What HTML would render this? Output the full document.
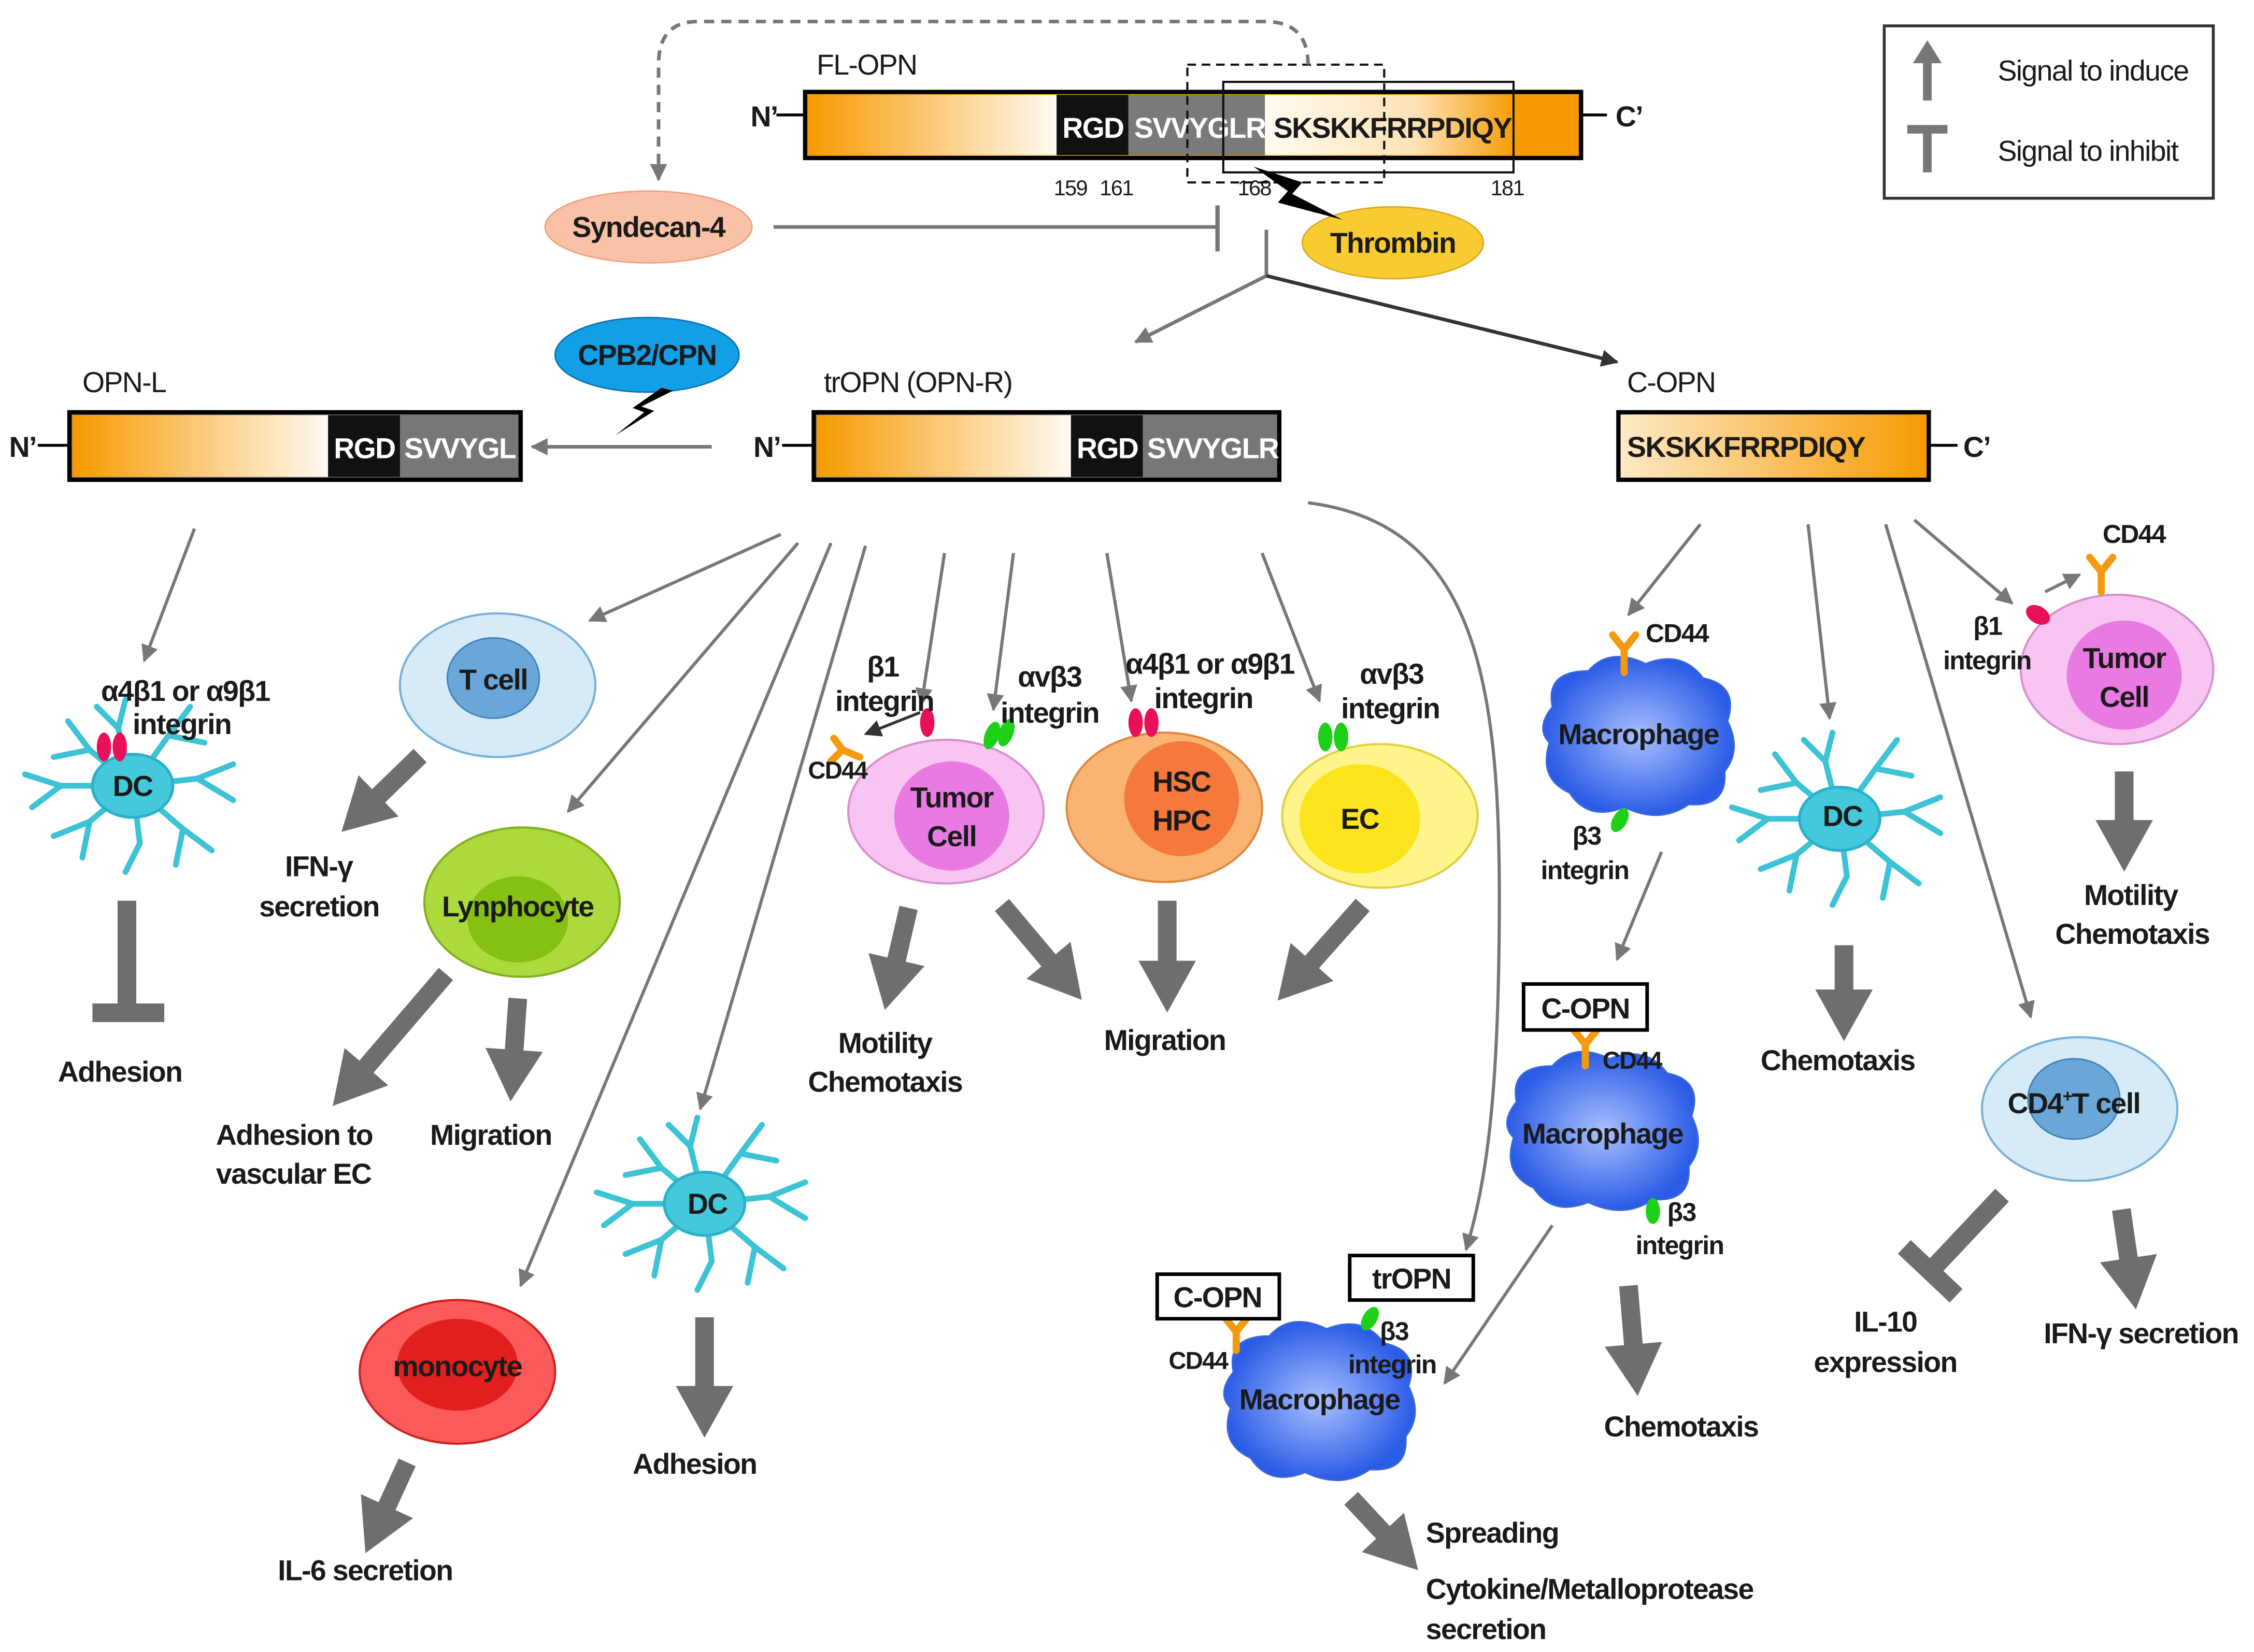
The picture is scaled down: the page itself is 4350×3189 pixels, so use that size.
<!DOCTYPE html>
<html><head><meta charset="utf-8"><style>
html,body{margin:0;padding:0;background:#fff}
svg{display:block}
text{font-family:"Liberation Sans",sans-serif;font-weight:bold;fill:#1a1a1a;font-size:20px;letter-spacing:-0.6px}
.n{font-weight:normal}
</style></head><body>
<svg width="4350" height="3189" viewBox="0 0 1568 1150" xmlns="http://www.w3.org/2000/svg">
<defs>
<linearGradient id="og" x1="0" x2="1"><stop offset="0" stop-color="#f79a00"/><stop offset="1" stop-color="#fffaf2"/></linearGradient>
<linearGradient id="og2" x1="0" x2="1"><stop offset="0" stop-color="#fffaf0"/><stop offset="0.6" stop-color="#fde2b6"/><stop offset="1" stop-color="#f79a00"/></linearGradient>
<linearGradient id="og3" x1="0" x2="1"><stop offset="0" stop-color="#fde9c8"/><stop offset="1" stop-color="#f79a00"/></linearGradient>
<radialGradient id="mg"><stop offset="0" stop-color="#a9c0ff"/><stop offset="1" stop-color="#2b5ce6"/></radialGradient>
<marker id="a" viewBox="0 0 10 10" refX="9" refY="5" markerWidth="12" markerHeight="12" markerUnits="userSpaceOnUse" orient="auto"><path d="M0,0L10,5L0,10z" fill="#777"/></marker>
<marker id="ak" viewBox="0 0 10 10" refX="9" refY="5" markerWidth="12" markerHeight="12" markerUnits="userSpaceOnUse" orient="auto"><path d="M0,0L10,5L0,10z" fill="#333"/></marker>
<marker id="b" viewBox="0 0 10 10" refX="2" refY="5" markerWidth="36" markerHeight="40" markerUnits="userSpaceOnUse" orient="auto" preserveAspectRatio="none"><path d="M0,0L10,5L0,10z" fill="#6e6e6e"/></marker>
<g id="mac"><path d="M-60,-20 Q-65,-45 -35,-45 Q-20,-62 5,-50 Q30,-60 45,-40 Q70,-35 62,-10 Q72,10 60,25 Q62,50 35,48 Q15,62 -10,50 Q-35,60 -48,40 Q-70,30 -62,5 Q-72,-5 -60,-20Z" fill="url(#mg)" stroke="#3a6ad8" stroke-width="1"/></g>
<g id="dc" stroke="#3cc3d6" stroke-width="4" fill="none" stroke-linecap="round">
<path d="M0,0 L-30,-25 L-45,-45 M-30,-25 L-55,-20 M0,0 L-10,-40 L-5,-60 M-10,-40 L-25,-55 M0,0 L25,-35 L40,-55 M25,-35 L50,-30 M0,0 L45,-5 L70,-15 M45,-5 L70,10 M0,0 L35,30 L55,45 M35,30 L30,55 M0,0 L5,40 L-5,60 M0,0 L-30,25 L-55,35 M-30,25 L-35,50 M0,0 L-50,0 L-75,-8 M-50,0 L-70,15"/>
<ellipse cx="0" cy="0" rx="28" ry="22" fill="#44c9dc" stroke="#2ab0c8" stroke-width="2"/>
</g>
</defs>

<rect x="1311" y="18" width="229" height="120" fill="#fff" stroke="#333" stroke-width="2"/>
<line x1="1341" y1="70" x2="1341" y2="40" stroke="#777" stroke-width="6"/><path d="M1331,44L1341,28L1351,44z" fill="#777"/>
<line x1="1341" y1="120" x2="1341" y2="90" stroke="#777" stroke-width="6"/><line x1="1327" y1="90" x2="1355" y2="90" stroke="#777" stroke-width="6"/>
<text class="n" x="1390" y="56">Signal to induce</text>
<text class="n" x="1390" y="112">Signal to inhibit</text>

<text class="n" x="568" y="52">FL-OPN</text>
<text x="522" y="88">N’</text><line x1="540" y1="80" x2="560" y2="80" stroke="#000" stroke-width="2"/>
<rect x="560" y="64" width="540" height="46" fill="#f79a00" stroke="#000" stroke-width="3"/>
<rect x="562" y="66" width="173" height="42" fill="url(#og)"/>
<rect x="735" y="66" width="50" height="42" fill="#111"/>
<rect x="785" y="66" width="95" height="42" fill="#7a7a7a"/>
<rect x="880" y="66" width="175" height="42" fill="url(#og2)"/>
<text x="739" y="96" style="fill:#fff">RGD</text><text x="789" y="96" style="fill:#fff">SVVYGLR</text>
<text x="886" y="96">SKSKKFRRPDIQY</text>
<line x1="1100" y1="80" x2="1118" y2="80" stroke="#000" stroke-width="2"/><text x="1124" y="88">C’</text>
<text class="n" x="733" y="136" style="font-size:15px">159</text><text class="n" x="765" y="136" style="font-size:15px">161</text>
<text class="n" x="861" y="136" style="font-size:15px">168</text><text class="n" x="1037" y="136" style="font-size:15px">181</text>
<rect x="826" y="45" width="137" height="82" fill="none" stroke="#111" stroke-width="1.5" stroke-dasharray="6,4"/>
<rect x="851" y="57" width="202" height="63" fill="none" stroke="#111" stroke-width="1.5"/>
<path d="M910,45 Q910,15 880,15 L485,15 Q458,15 458,45 L458,125" fill="none" stroke="#777" stroke-width="2.5" stroke-dasharray="7,5" marker-end="url(#a)"/>

<ellipse cx="451" cy="158" rx="72" ry="25" fill="#f9c1a6" stroke="#f0a080"/>
<text x="451" y="165" text-anchor="middle">Syndecan-4</text>
<line x1="538" y1="158" x2="846" y2="158" stroke="#777" stroke-width="2.5"/><line x1="847" y1="143" x2="847" y2="175" stroke="#777" stroke-width="3"/>
<ellipse cx="969" cy="169" rx="63" ry="25" fill="#f8cc30" stroke="#d8a820"/>
<text x="969" y="176" text-anchor="middle">Thrombin</text>
<path d="M872,116 L906,127 L899,135 L934,153 L889,141 L896,133 Z" fill="#000"/>
<line x1="881" y1="160" x2="881" y2="192" stroke="#777" stroke-width="2.5"/>
<line x1="881" y1="192" x2="790" y2="238" stroke="#777" stroke-width="2.5" marker-end="url(#a)"/>
<line x1="881" y1="192" x2="1125" y2="252" stroke="#333" stroke-width="2.5" marker-end="url(#ak)"/>

<text class="n" x="57" y="273">OPN-L</text>
<text x="6" y="318">N’</text><line x1="26" y1="310" x2="48" y2="310" stroke="#000" stroke-width="2"/>
<rect x="48" y="287" width="314" height="47" fill="#777" stroke="#000" stroke-width="3"/>
<rect x="50" y="289" width="178" height="43" fill="url(#og)"/>
<rect x="228" y="289" width="50" height="43" fill="#111"/>
<text x="232" y="319" style="fill:#fff">RGD</text><text x="281" y="319" style="fill:#fff">SVVYGL</text>
<ellipse cx="450" cy="247" rx="64" ry="26" fill="#11a0e6" stroke="#0a70b0"/>
<text x="450" y="254" text-anchor="middle">CPB2/CPN</text>
<path d="M460,270 L440,284 L448,287 L428,303 L455,286 L446,283 L468,272 Z" fill="#000"/>
<line x1="495" y1="311" x2="370" y2="311" stroke="#777" stroke-width="2.5" marker-end="url(#a)"/>

<text class="n" x="573" y="273">trOPN (OPN-R)</text>
<text x="524" y="318">N’</text><line x1="544" y1="310" x2="566" y2="310" stroke="#000" stroke-width="2"/>
<rect x="566" y="287" width="324" height="47" fill="#777" stroke="#000" stroke-width="3"/>
<rect x="568" y="289" width="177" height="43" fill="url(#og)"/>
<rect x="745" y="289" width="50" height="43" fill="#111"/>
<text x="749" y="319" style="fill:#fff">RGD</text><text x="798" y="319" style="fill:#fff">SVVYGLR</text>

<text class="n" x="1132" y="273">C-OPN</text>
<rect x="1126" y="287" width="216" height="47" fill="url(#og3)" stroke="#000" stroke-width="3"/>
<text x="1132" y="318">SKSKKFRRPDIQY</text>
<line x1="1342" y1="310" x2="1362" y2="310" stroke="#000" stroke-width="2"/><text x="1366" y="318">C’</text>

<g stroke="#777" stroke-width="2.2" fill="none" marker-end="url(#a)">
<line x1="135" y1="368" x2="100" y2="460"/>
<line x1="543" y1="372" x2="410" y2="432"/>
<line x1="555" y1="378" x2="395" y2="565"/>
<line x1="578" y1="378" x2="362" y2="895"/>
<line x1="602" y1="380" x2="487" y2="772"/>
<line x1="657" y1="385" x2="641" y2="490"/>
<line x1="705" y1="385" x2="691" y2="494"/>
<line x1="770" y1="385" x2="787" y2="488"/>
<line x1="878" y1="385" x2="918" y2="488"/>
<path d="M910,350 C1030,365 1045,480 1043,650 C1042,760 1035,820 1020,870"/>
<line x1="1183" y1="365" x2="1133" y2="428"/>
<line x1="1258" y1="365" x2="1273" y2="500"/>
<line x1="1312" y1="365" x2="1413" y2="708"/>
<line x1="1332" y1="362" x2="1400" y2="420"/>
<line x1="1156" y1="593" x2="1125" y2="668"/>
<line x1="1080" y1="853" x2="1005" y2="963"/>
<line x1="1423" y1="412" x2="1447" y2="400"/>
</g>
<line x1="640" y1="496" x2="602" y2="511" stroke="#333" stroke-width="2" marker-end="url(#ak)"/>

<g stroke="#6e6e6e" stroke-width="13" fill="none" marker-end="url(#b)">
<line x1="292" y1="526" x2="258" y2="559"/>
<line x1="310" y1="678" x2="250" y2="748"/>
<line x1="360" y1="695" x2="357" y2="738"/>
<line x1="283" y1="1018" x2="266" y2="1055"/>
<line x1="490" y1="917" x2="490" y2="972"/>
<line x1="632" y1="632" x2="622" y2="675"/>
<line x1="697" y1="630" x2="734" y2="674"/>
<line x1="812" y1="627" x2="812" y2="676"/>
<line x1="948" y1="630" x2="908" y2="675"/>
<line x1="1283" y1="658" x2="1283" y2="696"/>
<line x1="1478" y1="537" x2="1478" y2="578"/>
<line x1="1133" y1="895" x2="1137" y2="943"/>
<line x1="940" y1="1043" x2="967" y2="1072"/>
<line x1="1476" y1="842" x2="1482" y2="883"/>
</g>
<g stroke="#6e6e6e" stroke-width="13">
<line x1="88" y1="627" x2="88" y2="703"/><line x1="64" y1="705" x2="114" y2="705"/>
<line x1="1393" y1="832" x2="1343" y2="885"/><line x1="1325" y1="868" x2="1361" y2="902"/>
</g>

<ellipse cx="346" cy="477" rx="68" ry="50" fill="#d6eaf8" stroke="#7ab0d8" stroke-width="1.5"/>
<ellipse cx="343" cy="472" rx="32" ry="28" fill="#6aa6d8" stroke="#3a80b8"/>
<text x="343" y="480" text-anchor="middle">T cell</text>
<ellipse cx="363" cy="628" rx="68" ry="52" fill="#acd93c" stroke="#80b020" stroke-width="1.5"/>
<ellipse cx="360" cy="640" rx="35" ry="30" fill="#86c012"/>
<text x="360" y="638" text-anchor="middle">Lynphocyte</text>
<ellipse cx="318" cy="955" rx="68" ry="50" fill="#fb5a5a" stroke="#d02020" stroke-width="1.5"/>
<ellipse cx="318" cy="950" rx="42" ry="32" fill="#e21f1f"/>
<text x="318" y="958" text-anchor="middle">monocyte</text>
<ellipse cx="658" cy="565" rx="68" ry="50" fill="#f8c4f2" stroke="#d890d0" stroke-width="1.5"/>
<ellipse cx="662" cy="568" rx="40" ry="38" fill="#e87ae2"/>
<text x="662" y="562" text-anchor="middle">Tumor</text><text x="662" y="589" text-anchor="middle">Cell</text>
<ellipse cx="810" cy="562" rx="68" ry="52" fill="#f9b473" stroke="#e08840" stroke-width="1.5"/>
<ellipse cx="822" cy="556" rx="40" ry="40" fill="#f4793a"/>
<text x="822" y="551" text-anchor="middle">HSC</text><text x="822" y="578" text-anchor="middle">HPC</text>
<ellipse cx="960" cy="568" rx="68" ry="50" fill="#fff48a" stroke="#e0d040" stroke-width="1.5"/>
<ellipse cx="946" cy="570" rx="42" ry="38" fill="#fbe41c"/>
<text x="946" y="577" text-anchor="middle">EC</text>
<ellipse cx="1473" cy="466" rx="67" ry="52" fill="#f8c4f2" stroke="#d890d0" stroke-width="1.5"/>
<ellipse cx="1478" cy="470" rx="40" ry="38" fill="#e87ae2"/>
<text x="1478" y="465" text-anchor="middle">Tumor</text><text x="1478" y="492" text-anchor="middle">Cell</text>
<ellipse cx="1447" cy="772" rx="68" ry="50" fill="#d6eaf8" stroke="#7ab0d8" stroke-width="1.5"/>
<ellipse cx="1443" cy="765" rx="32" ry="28" fill="#6aa6d8" stroke="#3a80b8"/>
<text x="1443" y="775" text-anchor="middle">CD4<tspan style="font-size:12px" dy="-8">+</tspan><tspan dy="8">T cell</tspan></text>

<use href="#dc" x="92" y="547"/><text x="92" y="554" text-anchor="middle">DC</text>
<use href="#dc" x="490" y="838"/><text x="492" y="845" text-anchor="middle">DC</text>
<use href="#dc" x="1280" y="570"/><text x="1282" y="575" text-anchor="middle">DC</text>

<use href="#mac" x="1140" y="512"/><text x="1140" y="518" text-anchor="middle">Macrophage</text>
<use href="#mac" x="1115" y="787"/><text x="1115" y="796" text-anchor="middle">Macrophage</text>
<use href="#mac" x="918" y="975"/><text x="918" y="981" text-anchor="middle">Macrophage</text>

<g fill="#e8105a"><ellipse cx="72" cy="520" rx="5" ry="10"/><ellipse cx="83" cy="520" rx="5" ry="10"/>
<ellipse cx="645" cy="503" rx="5" ry="10"/>
<ellipse cx="790" cy="503" rx="5" ry="10"/><ellipse cx="801" cy="503" rx="5" ry="10"/>
<ellipse cx="1418" cy="428" rx="9" ry="6" transform="rotate(30 1418 428)"/></g>
<g fill="#1fd018"><ellipse cx="690" cy="512" rx="5" ry="10" transform="rotate(20 690 512)"/><ellipse cx="700" cy="510" rx="5" ry="10" transform="rotate(20 700 510)"/>
<ellipse cx="922" cy="513" rx="5" ry="10"/><ellipse cx="933" cy="513" rx="5" ry="10"/>
<ellipse cx="1127" cy="571" rx="5" ry="9" transform="rotate(30 1127 571)"/>
<ellipse cx="1150" cy="843" rx="5" ry="9"/>
<ellipse cx="953" cy="918" rx="5" ry="9" transform="rotate(30 953 918)"/></g>
<g stroke="#f39a10" stroke-width="5" fill="none" stroke-linecap="round">
<path d="M1130,468 L1130,452 M1122,442 L1130,452 L1138,442"/>
<path d="M1103,742 L1103,727 M1095,717 L1103,727 L1111,717"/>
<path d="M1462,412 L1462,398 M1454,388 L1462,398 L1470,388"/>
<path d="M860,940 L860,927 M852,917 L860,927 L868,917"/>
<path d="M598,527 L586,522 M580,514 L586,522 L578,530"/>
</g>

<text x="70" y="488">α4β1 or α9β1</text><text x="92" y="511">integrin</text>
<text x="198" y="610">IFN-γ</text><text x="180" y="638">secretion</text>
<text x="40" y="753">Adhesion</text>
<text x="150" y="797">Adhesion to</text><text x="150" y="824">vascular EC</text>
<text x="299" y="797">Migration</text>
<text x="193" y="1100">IL-6 secretion</text>
<text x="440" y="1026">Adhesion</text>
<text x="603" y="471">β1</text><text x="581" y="495">integrin</text>
<text x="562" y="542" style="font-size:17px">CD44</text>
<text x="708" y="478">αvβ3</text><text x="696" y="503">integrin</text>
<text x="783" y="469">α4β1 or α9β1</text><text x="803" y="493">integrin</text>
<text x="946" y="476">αvβ3</text><text x="933" y="500">integrin</text>
<text x="583" y="733">Motility</text><text x="562" y="760">Chemotaxis</text>
<text x="768" y="731">Migration</text>
<text x="1145" y="447" style="font-size:18px">CD44</text>
<text x="1094" y="588" style="font-size:18px">β3</text><text x="1072" y="612" style="font-size:18px">integrin</text>
<rect x="1060" y="685" width="86" height="32" fill="#fff" stroke="#000" stroke-width="2.5"/><text x="1103" y="709" text-anchor="middle">C-OPN</text>
<text x="1115" y="744" style="font-size:17px">CD44</text>
<text x="1160" y="850" style="font-size:18px">β3</text><text x="1138" y="873" style="font-size:18px">integrin</text>
<text x="1116" y="1000">Chemotaxis</text>
<rect x="805" y="887" width="85" height="31" fill="#fff" stroke="#000" stroke-width="2.5"/><text x="847" y="910" text-anchor="middle">C-OPN</text>
<rect x="939" y="874" width="86" height="31" fill="#fff" stroke="#000" stroke-width="2.5"/><text x="982" y="897" text-anchor="middle">trOPN</text>
<text x="813" y="953" style="font-size:17px">CD44</text>
<text x="960" y="933" style="font-size:18px">β3</text><text x="938" y="956" style="font-size:18px">integrin</text>
<text x="992" y="1074">Spreading</text>
<text x="992" y="1113">Cytokine/Metalloprotease</text><text x="992" y="1141">secretion</text>
<text x="1225" y="745">Chemotaxis</text>
<text x="1463" y="378" style="font-size:18px">CD44</text>
<text x="1373" y="442" style="font-size:18px">β1</text><text x="1352" y="466" style="font-size:18px">integrin</text>
<text x="1450" y="630">Motility</text><text x="1430" y="657">Chemotaxis</text>
<text x="1290" y="927">IL-10</text><text x="1262" y="955">expression</text>
<text x="1422" y="935">IFN-γ secretion</text>
</svg>
</body></html>
